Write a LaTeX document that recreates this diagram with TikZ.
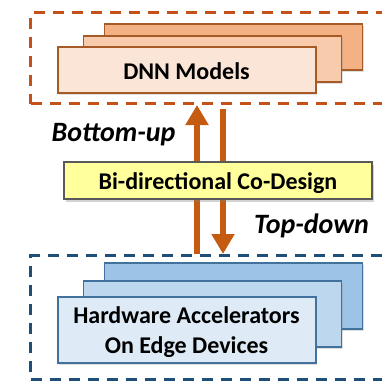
\documentclass[tikz,border=0pt]{standalone}
\usepackage{fontspec}
\setmainfont{Carlito}
\usetikzlibrary{arrows.meta,shadows}
\definecolor{dnnA}{HTML}{F4B183}
\definecolor{dnnB}{HTML}{F8CBAD}
\definecolor{dnnC}{HTML}{FBE5D6}
\definecolor{dnnEdge}{HTML}{A65A26}
\definecolor{hwA}{HTML}{9DC3E6}
\definecolor{hwB}{HTML}{BDD7EE}
\definecolor{hwC}{HTML}{DEEBF7}
\definecolor{hwEdge}{HTML}{41719C}
\definecolor{dashOrange}{HTML}{C4501A}
\definecolor{dashBlue}{HTML}{1F4E79}
\definecolor{arrowOrange}{HTML}{C55A11}
\definecolor{noteYellow}{HTML}{FFFF9C}
\tikzset{
  bigfont/.style={font=\fontsize{24}{29.5}\selectfont\bfseries},
  slantfont/.style={font=\fontsize{28}{33}\selectfont\bfseries\itshape},
  groupbox/.style={draw, line width=3pt, dash pattern=on 11pt off 8pt, anchor=north west, inner sep=0pt},
  layerbox/.style={draw, line width=1.5pt, inner sep=0pt, minimum width=258pt,
    drop shadow={shadow xshift=1pt, shadow yshift=-1.5pt, opacity=0.25}},
  flowarrow/.style={line width=6.5pt, draw=arrowOrange, -{Triangle[width=22pt,length=20pt]}},
  notebox/.style={draw=black!65, line width=1.3pt, fill=noteYellow, inner sep=0pt,
    minimum width=308pt, minimum height=37pt,
    drop shadow={shadow xshift=2pt, shadow yshift=-2.5pt, opacity=0.35}},
}
\begin{document}
\begin{tikzpicture}[x=1pt,y=-1pt]
\useasboundingbox (0,0) rectangle (382,384);

% group frames
\node[groupbox, draw=dashOrange, minimum width=370pt, minimum height=91pt] (topgroup) at (29,11) {};
\node[groupbox, draw=dashBlue, minimum width=370pt, minimum height=124pt] (botgroup) at (29,254) {};

% stacked DNN model cards
\node[layerbox, draw=dnnEdge, fill=dnnA, minimum height=46pt] (dnn3) at (233.5,47) {};
\node[layerbox, draw=dnnEdge, fill=dnnB, minimum height=46pt] (dnn2) at (212.5,59) {};
\node[layerbox, draw=dnnEdge, fill=dnnC, minimum height=46pt] (dnn1) at (187,70) {};
\node[bigfont, anchor=base] (dnnlabel) at (186.5,79) {DNN Models};

% stacked hardware cards
\node[layerbox, draw=hwEdge, fill=hwA, minimum height=66pt] (hw3) at (233.5,296) {};
\node[layerbox, draw=hwEdge, fill=hwB, minimum height=66pt] (hw2) at (212.5,314) {};
\node[layerbox, draw=hwEdge, fill=hwC, minimum height=66pt] (hw1) at (187,330) {};
\node[bigfont, anchor=base] (hwlabelA) at (186.5,323) {Hardware Accelerators};
\node[bigfont, anchor=base] (hwlabelB) at (186.5,353) {On Edge Devices};

% bi-directional flow
\coordinate (upx) at (197,0);
\coordinate (downx) at (223,0);
\coordinate (downstart) at (223,109);
\draw[flowarrow] (botgroup.north -| upx) -- (topgroup.south -| upx);
\draw[flowarrow] (downstart) -- (botgroup.north -| downx);

\node[notebox] (codesign) at (218,180.5) {};
\node[bigfont, anchor=base] (codesignlabel) at (218,189) {Bi-directional Co-Design};

\node[slantfont, anchor=base] (bottomup) at (113.5,141) {Bottom-up};
\node[slantfont, anchor=base] (topdown) at (311.5,233) {Top-down};
\end{tikzpicture}
\end{document}
